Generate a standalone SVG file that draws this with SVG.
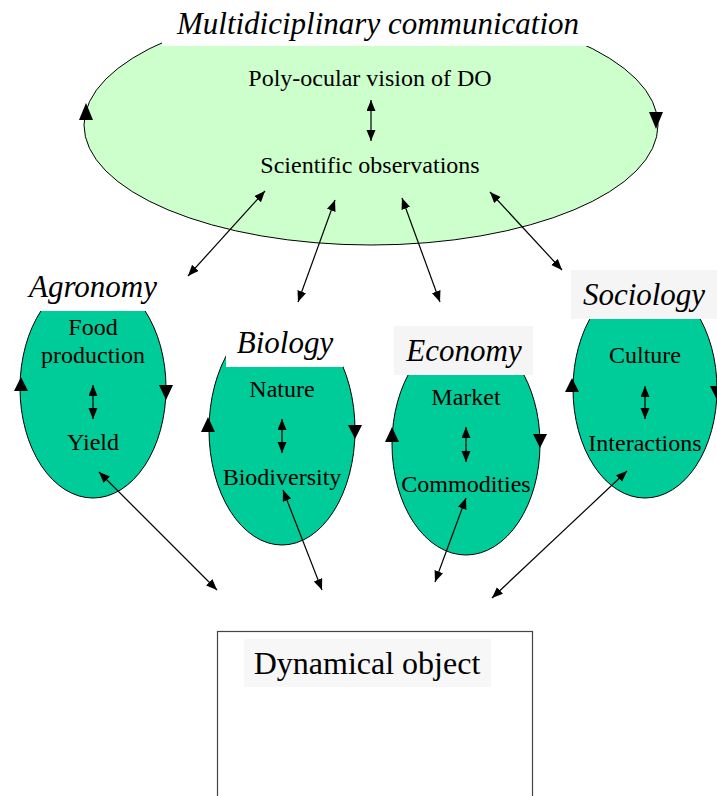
<svg xmlns="http://www.w3.org/2000/svg" width="717" height="796" viewBox="0 0 717 796">
<style>
text{font-family:"Liberation Serif","Times New Roman",serif;fill:#000;text-anchor:middle}
.in{font-size:24px}
.ti{font-style:italic;font-size:31px}
.ln{stroke:#000;stroke-width:1.2;fill:none;marker-start:url(#ah);marker-end:url(#ah)}
.big{fill:#ccffcc;stroke:#000;stroke-width:1}
.sm{fill:#00cc99;stroke:#000;stroke-width:1}
.hd{fill:#000}
</style>
<defs>
<marker id="ah" markerUnits="userSpaceOnUse" markerWidth="12" markerHeight="10" refX="11" refY="4.5" orient="auto-start-reverse">
<path d="M0,0 L11,4.5 L0,9 z" fill="#000"/>
</marker>
</defs>
<rect width="717" height="796" fill="#fff"/>
<g id="multidisciplinary">
<ellipse class="big" cx="371" cy="125" rx="287" ry="120"/>
<polygon class="hd" points="86,103 79,120 93,120"/>
<polygon class="hd" points="656,129 649,112 663,112"/>
<rect x="162" y="0" width="435" height="46" fill="#fff"/>
<text class="ti" x="378" y="34">Multidiciplinary communication</text>
<text class="in" x="370" y="86">Poly-ocular vision of DO</text>
<text class="in" x="370" y="173">Scientific observations</text>
</g>
<g id="agronomy">
<ellipse class="sm" cx="93" cy="388" rx="73" ry="110"/>
<polygon class="hd" points="21,377 14,391 28,391"/>
<polygon class="hd" points="166,400 159,385 173,385"/>
<rect x="22" y="270" width="145" height="41" fill="#fff"/>
<text class="ti" x="93" y="297">Agronomy</text>
<text class="in" x="93" y="335">Food</text>
<text class="in" x="93" y="363">production</text>
<text class="in" x="93" y="450">Yield</text>
</g>
<g id="biology">
<ellipse class="sm" cx="282" cy="430" rx="73" ry="115"/>
<polygon class="hd" points="208,417 201,432 215,432"/>
<polygon class="hd" points="355,439 348,425 362,425"/>
<rect x="226" y="310" width="117" height="57" fill="#fff"/>
<text class="ti" x="285" y="353">Biology</text>
<text class="in" x="282" y="397">Nature</text>
<text class="in" x="282" y="485">Biodiversity</text>
</g>
<g id="economy">
<ellipse class="sm" cx="466" cy="444" rx="74" ry="111"/>
<polygon class="hd" points="392,427 385,442 399,442"/>
<polygon class="hd" points="540,448 533,434 547,434"/>
<rect x="394" y="326" width="139" height="49" fill="#f5f5f5"/>
<text class="ti" x="464" y="361">Economy</text>
<text class="in" x="466" y="405">Market</text>
<text class="in" x="466" y="492">Commodities</text>
</g>
<g id="sociology">
<ellipse class="sm" cx="645" cy="389" rx="72" ry="109"/>
<polygon class="hd" points="572,378 565,392 579,392"/>
<polygon class="hd" points="717,400 710,386 724,386"/>
<rect x="571" y="270" width="146" height="49" fill="#f5f5f5"/>
<text class="ti" x="644" y="305">Sociology</text>
<text class="in" x="645" y="363">Culture</text>
<text class="in" x="645" y="451">Interactions</text>
</g>
<g id="dynamical-object">
<rect x="217.5" y="631.5" width="315" height="180" fill="#fff" stroke="#444" stroke-width="1.2"/>
<rect x="244" y="639" width="247" height="48" fill="#f7f7f7"/>
<text x="367" y="674" font-size="32">Dynamical object</text>
</g>
<g id="connectors">
<line class="ln" x1="371" y1="100" x2="371" y2="141"/>
<line class="ln" x1="93" y1="385" x2="93" y2="419"/>
<line class="ln" x1="282" y1="419" x2="282" y2="453"/>
<line class="ln" x1="466" y1="427" x2="466" y2="462"/>
<line class="ln" x1="645" y1="386" x2="645" y2="419"/>
<line class="ln" x1="265" y1="191" x2="188" y2="276"/>
<line class="ln" x1="335" y1="200" x2="298" y2="302"/>
<line class="ln" x1="402" y1="198" x2="440" y2="302"/>
<line class="ln" x1="490" y1="192" x2="562" y2="270"/>
<line class="ln" x1="99" y1="472" x2="217" y2="590"/>
<line class="ln" x1="283" y1="490" x2="322" y2="590"/>
<line class="ln" x1="466" y1="498" x2="435" y2="582"/>
<line class="ln" x1="627" y1="471" x2="492" y2="598"/>
</g>
</svg>
